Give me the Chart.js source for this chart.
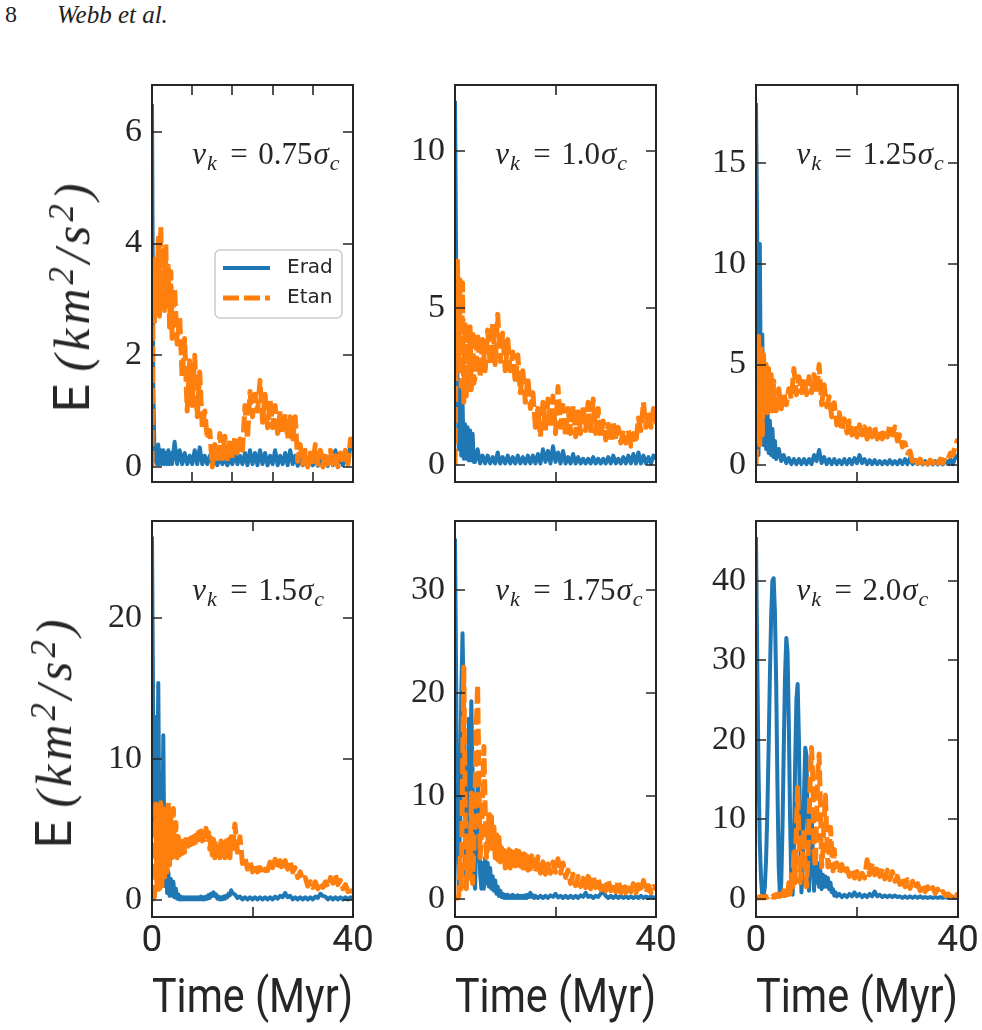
<!DOCTYPE html>
<html><head><meta charset="utf-8">
<script src="https://cdn.jsdelivr.net/npm/chart.js@4.4.1/dist/chart.umd.min.js"></script>
<style>
html,body{margin:0;padding:0;background:#fff;}
#page{position:relative;width:982px;height:1030px;overflow:hidden;background:#fff;}
canvas{position:absolute;}
.hdr{position:absolute;top:1px;font-family:"Liberation Serif",serif;font-size:24px;color:#222;}
.ylab{position:absolute;transform:translate(-50%,-50%) rotate(-90deg);white-space:nowrap;font-family:Roboto,sans-serif;font-size:50px;color:#262626;line-height:1;z-index:5;}
.ylab .m{font-family:"Liberation Serif",serif;font-style:italic;letter-spacing:4px;}
.ylab sup{font-size:0.7em;position:relative;top:-0.1em;vertical-align:top;}
</style></head>
<body><div id="page">
<div class="hdr" style="left:5px;">8</div>
<div class="hdr" style="left:57px;font-style:italic;font-size:25px;">Webb et al.</div>
<div class="ylab" style="left:72px;top:296px;">E <span class="m">(km<sup>2</sup>/s<sup>2</sup>)</span></div>
<div class="ylab" style="left:54px;top:732px;">E <span class="m">(km<sup>2</sup>/s<sup>2</sup>)</span></div>
</div>
<script>
// ---------------- data ----------------
const KICK_LABELS = ['0.75', '1.0', '1.25', '1.5', '1.75', '2.0'];
const SERIES_NAMES = ['Erad', 'Etan'];

const TIME_TOP = [
  0,0.25,0.5,0.75, 1,1.25,1.5,1.75, 2,2.25,2.5,2.75, 3,3.25,3.5,3.75,
  4,4.5,5,5.5, 6,6.5,7,7.5, 8,8.5,9,9.5, 10,10.5,11,11.5, 12,12.5,13,13.5,
  14,14.5,15,15.5, 16,16.5,17,17.5, 18,18.5,19,19.5, 20,20.5,21,21.5,
  22,22.5,23,23.5, 24,24.5,25,25.5, 26,26.5,27,27.5, 28,28.5,29,29.5,
  30,30.5,31,31.5, 32,32.5,33,33.5, 34,34.5,35,35.5, 36,36.5,37,37.5,
  38,38.5,39,39.5, 40
];
const TIME_BOTTOM = [
  0,0.25,0.5,0.75, 1,1.25,1.5,1.75, 2,2.25,2.5,2.75, 3,3.25,3.5,3.75,
  4,4.25,4.5,4.75, 5,5.25,5.5,5.75, 6,6.25,6.5,6.75, 7,7.25,7.5,7.75,
  8,8.25,8.5,8.75, 9,9.25,9.5,9.75, 10,10.25,10.5,10.75, 11,11.25,11.5,11.75,
  12,12.25,12.5,12.75, 13,13.25,13.5,13.75, 14,14.25,14.5,14.75, 15,15.25,15.5,15.75,
  16,16.5,17,17.5, 18,18.5,19,19.5, 20,20.5,21,21.5, 22,22.5,23,23.5,
  24,24.5,25,25.5, 26,26.5,27,27.5, 28,28.5,29,29.5, 30,30.5,31,31.5,
  32,32.5,33,33.5, 34,34.5,35,35.5, 36,36.5,37,37.5, 38,38.5,39,39.5, 40
];

// v_k = 0.75 sigma_c
const ERAD_075 = [
  6.5,1.5,0.1,0.35, 0.05,0.4,0.05,0.3, 0.05,0.3,0.05,0.25, 0.05,0.3,0.05,0.25,
  0.05,0.45,0.05,0.3, 0.05,0.25,0.05,0.2, 0.05,0.3,0.05,0.35, 0.05,0.2,0.05,0.2,
  0.05,0.15,0.03,0.2, 0.05,0.15,0.03,0.15, 0.05,0.25,0.05,0.2, 0.05,0.25,0.03,0.3,
  0.05,0.25,0.03,0.3, 0.05,0.25,0.03,0.2, 0.05,0.3,0.03,0.2, 0.05,0.25,0.03,0.3,
  0.05,0.2,0.02,0.15, 0.03,0.15,0.02,0.12, 0.03,0.15,0.02,0.15, 0.03,0.12,0.02,0.2,
  0.03,0.3,0.05,0.15, 0.03,0.2,0.05,0.4, 0.3
];
const ETAN_075 = [
  0,3.5,2.6,3.8, 2.8,4.1,2.7,4.3, 3.0,3.9,2.8,4.0, 2.9,3.6,2.5,3.5,
  2.3,3.2,2.2,2.7, 1.6,2.3,1.0,1.9, 1.1,2.0,0.9,1.7, 0.7,1.0,0.5,0.65,
  0.0,0.4,0.1,0.6, 0.15,0.55,0.1,0.5, 0.15,0.55,0.2,0.5, 0.3,1.1,0.5,1.35,
  0.9,1.3,1.0,1.55, 0.8,1.3,0.7,1.2, 0.7,1.1,0.6,1.0, 0.6,0.95,0.5,0.9,
  0.5,0.9,0.1,0.4, 0.05,0.3,0.0,0.25, 0.05,0.4,0.05,0.3, 0.0,0.25,0.05,0.3,
  0.05,0.2,0.0,0.25, 0.05,0.3,0.05,0.5, 0.35
];
// v_k = 1.0 sigma_c
const ERAD_100 = [
  11.6,6.0,2.5,0.5, 2.7,0.3,2.0,0.2, 1.3,0.2,1.2,0.15, 1.1,0.15,1.0,0.1,
  0.1,0.5,0.05,0.3, 0.05,0.3,0.05,0.25, 0.05,0.4,0.05,0.25, 0.05,0.3,0.05,0.25,
  0.05,0.3,0.05,0.25, 0.05,0.3,0.05,0.3, 0.05,0.35,0.05,0.5, 0.1,0.45,0.05,0.6,
  0.1,0.4,0.05,0.45, 0.05,0.25,0.05,0.35, 0.05,0.25,0.05,0.2, 0.05,0.2,0.05,0.25,
  0.05,0.2,0.05,0.2, 0.05,0.25,0.05,0.3, 0.05,0.2,0.05,0.25, 0.05,0.3,0.05,0.35,
  0.05,0.4,0.05,0.3, 0.05,0.25,0.05,0.3, 0.2
];
const ETAN_100 = [
  0,4.0,6.5,3.0, 5.9,2.5,5.8,2.0, 4.6,2.2,4.5,2.4, 4.4,2.4,4.3,2.6,
  2.8,4.2,2.8,4.0, 3.0,4.3,3.2,4.5, 3.2,4.8,3.3,4.2, 3.0,4.0,3.0,3.6,
  2.6,3.5,2.3,3.0, 2.0,2.8,1.8,2.3, 1.2,1.8,0.9,2.0, 1.1,2.1,1.2,2.2,
  1.0,2.5,1.2,1.9, 0.9,1.8,1.0,1.9, 0.9,1.7,1.0,1.9, 1.1,2.0,1.0,2.1,
  1.0,1.8,0.9,1.4, 0.8,1.3,0.8,1.4, 0.8,1.2,0.7,1.1, 0.7,1.1,0.6,1.0,
  0.7,1.5,1.1,2.0, 1.2,1.7,1.2,1.8, 1.3
];
// v_k = 1.25 sigma_c
const ERAD_125 = [
  18.0,11.0,0.5,11.0, 2.0,6.5,1.0,4.7, 0.8,3.0,0.6,2.2, 0.5,1.8,0.4,1.2,
  0.3,0.8,0.2,0.5, 0.1,0.35,0.05,0.3, 0.05,0.3,0.05,0.3, 0.05,0.3,0.05,0.5,
  0.2,0.75,0.1,0.4, 0.05,0.3,0.05,0.3, 0.05,0.25,0.05,0.3, 0.05,0.3,0.05,0.35,
  0.1,0.5,0.1,0.3, 0.05,0.25,0.05,0.25, 0.05,0.2,0.05,0.2, 0.05,0.25,0.05,0.2,
  0.05,0.25,0.05,0.3, 0.05,0.35,0.05,0.25, 0.05,0.2,0.03,0.2, 0.03,0.15,0.03,0.2,
  0.03,0.2,0.03,0.25, 0.05,0.3,0.05,0.4, 0.5
];
const ETAN_125 = [
  0,2.0,6.4,1.0, 5.9,1.5,5.5,2.5, 5.0,2.6,4.8,2.7, 4.5,2.7,4.2,2.7,
  2.7,3.8,2.8,3.6, 3.0,3.8,3.3,4.8, 3.5,4.4,3.6,4.3, 3.5,4.4,3.6,4.5,
  3.6,5.0,3.0,4.0, 2.9,3.4,2.4,3.1, 2.0,2.6,1.7,2.3, 1.6,2.2,1.5,2.0,
  1.4,2.0,1.5,1.9, 1.3,1.8,1.4,1.9, 1.3,1.7,1.3,1.8, 1.4,2.0,1.5,1.9,
  1.2,1.5,0.9,1.1, 0.6,0.7,0.2,0.4, 0.1,0.3,0.1,0.3, 0.05,0.25,0.1,0.3,
  0.1,0.3,0.1,0.4, 0.3,0.6,0.5,1.0, 1.3
];
// v_k = 1.5 sigma_c
const ERAD_150 = [
  25.8,12.0,5.0,13.0, 4.0,15.4,3.0,9.0, 1.5,11.7,1.0,5.0, 0.5,2.0,0.3,1.5,
  0.3,1.3,0.2,0.8, 0.1,0.4,0.05,0.25, 0.05,0.2,0.05,0.2, 0.05,0.2,0.05,0.2,
  0.05,0.2,0.05,0.2, 0.05,0.2,0.05,0.25, 0.05,0.2,0.05,0.25, 0.1,0.35,0.15,0.45,
  0.3,0.55,0.3,0.4, 0.1,0.25,0.05,0.2, 0.05,0.25,0.1,0.3, 0.2,0.45,0.35,0.7,
  0.5,0.4,0.15,0.25, 0.05,0.2,0.05,0.2, 0.05,0.2,0.05,0.2, 0.05,0.2,0.05,0.2,
  0.05,0.25,0.1,0.3, 0.2,0.5,0.2,0.3, 0.05,0.2,0.05,0.2, 0.05,0.2,0.05,0.2,
  0.05,0.25,0.15,0.45, 0.3,0.25,0.05,0.2, 0.05,0.2,0.05,0.2, 0.05,0.2,0.05,0.2, 0.1
];
const ETAN_150 = [
  0,0.1,0.3,6.8, 0.5,5.0,0.8,6.9, 1.0,6.5,1.5,6.0, 2.0,6.9,2.5,6.0,
  3.0,6.5,3.0,5.5, 3.0,4.5,3.2,4.4, 3.3,4.2,3.4,4.3, 3.5,4.3,3.6,4.4,
  3.7,4.5,3.8,4.6, 4.0,4.8,4.0,4.9, 4.2,4.8,4.3,5.1, 4.2,4.8,3.6,4.4,
  3.2,4.3,3.0,4.0, 3.2,4.1,3.0,4.2, 3.2,4.0,3.0,4.2, 3.3,4.3,3.0,4.5,
  3.5,5.4,3.4,4.5, 2.6,3.0,2.2,2.8, 2.0,2.6,2.0,2.3, 1.8,2.2,2.1,2.7,
  2.3,2.9,2.2,2.8, 2.2,2.8,2.2,2.7, 2.0,2.3,1.6,2.0, 1.4,1.6,1.0,1.3,
  0.9,1.3,0.8,1.2, 0.9,1.3,0.9,1.6, 1.2,1.8,1.1,1.4, 0.8,1.1,0.6,0.9, 0.5
];
// v_k = 1.75 sigma_c
const ERAD_175 = [
  35.0,20.0,6.0,1.0, 8.0,20.0,25.8,18.0, 4.0,1.0,6.0,17.5, 10.0,19.2,12.0,2.0,
  1.0,6.0,11.5,8.0, 2.5,1.0,3.5,1.0, 4.0,1.5,3.5,1.2, 3.0,1.0,2.2,0.8,
  1.8,0.5,1.2,0.3, 0.8,0.2,0.5,0.1, 0.4,0.1,0.4,0.1, 0.3,0.1,0.4,0.1,
  0.3,0.1,0.35,0.1, 0.3,0.1,0.3,0.1, 0.35,0.1,0.4,0.2, 0.6,0.2,0.35,0.1,
  0.3,0.1,0.3,0.1, 0.3,0.1,0.35,0.2, 0.5,0.15,0.3,0.1, 0.3,0.1,0.3,0.1,
  0.3,0.1,0.35,0.2, 0.6,0.2,0.3,0.1, 0.3,0.2,0.5,0.7, 0.3,0.1,0.3,0.1,
  0.3,0.1,0.3,0.1, 0.25,0.1,0.25,0.1, 0.25,0.1,0.3,0.1, 0.25,0.1,0.25,0.1, 0.2
];
const ETAN_175 = [
  0,0.1,0.1,0.3, 4.0,1.0,12.0,22.5, 10.0,1.0,3.0,6.0, 2.0,10.3,1.5,5.0,
  10.0,17.0,20.8,12.0, 4.0,6.0,10.0,14.8, 9.0,4.0,5.0,8.5, 5.0,8.0,4.5,7.0,
  4.0,6.5,3.8,6.0, 3.6,5.0,3.3,4.7, 3.0,4.5,3.2,4.8, 3.0,4.6,3.1,4.5,
  3.2,4.7,3.3,4.6, 3.2,4.8,3.0,4.4, 3.0,4.2,2.8,4.0, 2.9,4.2,2.8,3.8,
  2.6,4.1,2.5,3.6, 2.4,3.4,2.5,3.6, 2.6,3.9,2.5,3.5, 2.1,2.8,1.5,2.4,
  1.3,2.2,1.2,2.0, 1.1,2.2,1.0,2.3, 1.1,2.0,0.9,1.7, 0.8,1.9,0.8,1.6,
  0.7,1.8,0.6,1.5, 0.6,1.4,0.7,1.5, 0.6,1.4,0.7,1.8, 0.6,1.3,0.6,1.2, 0.9
];
// v_k = 2.0 sigma_c
const ERAD_200 = [
  45.5,30.0,16.0,7.0, 2.5,0.3,0.2,1.5, 5.0,11.0,19.0,28.0, 35.5,40.0,40.3,36.0,
  27.0,14.0,4.0,0.3, 2.0,9.0,19.0,28.0, 32.8,31.0,22.0,10.0, 2.0,0.5,6.0,17.0,
  25.0,27.0,20.0,8.0, 0.8,4.0,13.0,19.0, 18.0,9.0,1.0,5.0, 11.0,6.0,1.0,5.0,
  2.0,4.5,1.5,3.5, 1.2,3.0,1.5,2.8, 1.5,2.6,1.2,2.0, 0.8,1.2,0.4,0.8,
  0.3,0.6,0.2,0.5, 0.2,0.6,0.3,0.8, 0.3,0.6,0.2,0.5, 0.2,0.6,0.3,0.9,
  0.3,0.5,0.2,0.4, 0.2,0.4,0.2,0.4, 0.2,0.3,0.1,0.3, 0.1,0.3,0.1,0.3,
  0.1,0.3,0.1,0.2, 0.1,0.2,0.1,0.2, 0.1,0.2,0.1,0.2, 0.1,0.2,0.1,0.2, 0.1
];
const ETAN_200 = [
  0.1,0.1,0.2,0.1, 0.3,0.1,0.2,0.1, 0.3,0.2,0.4,0.2, 0.3,0.2,0.4,0.2,
  0.5,0.3,0.6,0.3, 0.8,0.4,1.0,0.4, 1.2,0.5,2.0,0.6, 3.0,1.0,5.8,2.0,
  9.0,14.0,8.0,2.0, 4.0,6.0,8.7,4.0, 1.5,5.0,10.0,15.0, 19.0,15.0,6.0,4.0,
  10.0,16.0,18.2,12.0, 4.0,6.0,10.0,13.0, 8.0,4.0,6.0,9.0, 6.0,3.5,6.2,4.0,
  4.5,3.2,4.3,3.0, 3.8,2.8,3.6,2.6, 3.4,2.5,3.2,2.6, 4.9,3.0,4.5,3.0,
  4.2,2.8,3.8,2.5, 3.6,2.4,3.4,2.2, 2.8,1.8,2.5,1.5, 2.4,1.3,2.2,1.2,
  1.9,1.0,1.8,0.9, 1.5,0.8,1.4,0.7, 1.2,0.5,0.9,0.4, 0.6,0.3,0.8,0.4, 0.6
];

// tick values
const Y_TICKS_075 = [0, 2, 4, 6];
const Y_TICKS_100 = [0, 5, 10];
const Y_TICKS_125 = [0, 5, 10, 15];
const Y_TICKS_150 = [0, 10, 20];
const Y_TICKS_175 = [0, 10, 20, 30];
const Y_TICKS_200 = [0, 10, 20, 30, 40];
const X_TICKS_FINE = [0, 8, 16, 24, 32, 40];
const X_TICKS = [0, 20, 40];
const X_TICK_LABELS = ['0', '', '40'];

// ---------------- styling ----------------
const INK = '#262626';
const BLUE = '#1f77b4';
const ORANGE = '#ff7f0e';

const framePlugin = {
  id: 'frame',
  afterDatasetsDraw(chart) {
    const {ctx, chartArea: a, scales} = chart;
    const x = scales.x, y = scales.y;
    ctx.save();
    ctx.strokeStyle = INK;
    ctx.lineWidth = 2;
    ctx.strokeRect(a.left, a.top, a.right - a.left, a.bottom - a.top);
    ctx.lineWidth = 1.6;
    const L = 10;
    ctx.beginPath();
    x.ticks.forEach(t => {
      const px = Math.round(x.getPixelForValue(t.value));
      ctx.moveTo(px, a.bottom); ctx.lineTo(px, a.bottom - L);
      ctx.moveTo(px, a.top); ctx.lineTo(px, a.top + L);
    });
    y.ticks.forEach(t => {
      const py = Math.round(y.getPixelForValue(t.value));
      ctx.moveTo(a.left, py); ctx.lineTo(a.left + L, py);
      ctx.moveTo(a.right, py); ctx.lineTo(a.right - L, py);
    });
    ctx.stroke();
    ctx.restore();
  }
};

const kickPlugin = {
  id: 'kick',
  afterDraw(chart, args, o) {
    if (!o || !o.value) return;
    const {ctx, chartArea: a} = chart;
    const fs = o.size || 30;
    const x0 = a.left + 0.2 * (a.right - a.left);
    const y0 = a.top + 0.2 * (a.bottom - a.top);
    const fam = '"Liberation Serif", serif';
    const it = `italic ${fs}px ${fam}`;
    const rm = `${fs}px ${fam}`;
    const sb = `italic ${Math.round(fs * 0.72)}px ${fam}`;
    const parts = [
      ['v', it, 0, 1], ['k', sb, fs * 0.18, 3], [null, 0.34 * fs], ['=', rm, 0, 0], [null, 0.34 * fs],
      [o.value, rm, 0, 1], ['\u03c3', it, 0, 1], ['c', sb, fs * 0.18, 0]
    ];
    ctx.save();
    ctx.fillStyle = INK;
    ctx.textBaseline = 'alphabetic';
    ctx.textAlign = 'left';
    let x = x0;
    parts.forEach(p => {
      if (p[0] === null) { x += p[1]; return; }
      ctx.font = p[1];
      ctx.fillText(p[0], x, y0 + p[2]);
      x += ctx.measureText(p[0]).width + p[3];
    });
    ctx.restore();
  }
};

const boxLegendPlugin = {
  id: 'boxLegend',
  afterDraw(chart, args, o) {
    if (!o || !o.show) return;
    const {ctx, chartArea: a} = chart;
    const bx = a.left + o.dx, by = a.top + o.dy, bw = o.w, bh = o.h;
    ctx.save();
    ctx.fillStyle = 'rgba(255,255,255,0.8)';
    ctx.strokeStyle = '#cccccc';
    ctx.lineWidth = 1.5;
    ctx.beginPath();
    if (ctx.roundRect) ctx.roundRect(bx, by, bw, bh, 5); else ctx.rect(bx, by, bw, bh);
    ctx.fill(); ctx.stroke();
    chart.data.datasets.forEach((ds, i) => {
      const ry = by + 18 + i * 30;
      ctx.beginPath();
      ctx.strokeStyle = ds.borderColor;
      ctx.lineWidth = ds.borderWidth;
      ctx.setLineDash(ds.borderDash || []);
      ctx.lineCap = 'butt';
      ctx.moveTo(bx + 8, ry); ctx.lineTo(bx + 55, ry);
      ctx.stroke();
      ctx.setLineDash([]);
      ctx.fillStyle = INK;
      ctx.font = '20px "DejaVu Sans", sans-serif';
      ctx.textBaseline = 'middle';
      ctx.fillText(ds.label, bx + 72, ry);
    });
    ctx.restore();
  }
};

Chart.register(framePlugin, kickPlugin, boxLegendPlugin);

const PANELS = [
  {left:152, top:85, w:201, h:397, t:TIME_TOP, erad:ERAD_075, etan:ETAN_075, ymin:-0.27, ymax:6.84, yt:Y_TICKS_075, xt:X_TICKS_FINE, kick:KICK_LABELS[0], bottom:false, legend:true},
  {left:455, top:85, w:201, h:397, t:TIME_TOP, erad:ERAD_100, etan:ETAN_100, ymin:-0.54, ymax:12.1, yt:Y_TICKS_100, xt:X_TICKS, kick:KICK_LABELS[1], bottom:false},
  {left:756, top:85, w:202, h:397, t:TIME_TOP, erad:ERAD_125, etan:ETAN_125, ymin:-0.84, ymax:18.9, yt:Y_TICKS_125, xt:X_TICKS, kick:KICK_LABELS[2], bottom:false},
  {left:152, top:521, w:201, h:396, t:TIME_BOTTOM, erad:ERAD_150, etan:ETAN_150, ymin:-1.2, ymax:26.9, yt:Y_TICKS_150, xt:X_TICKS, kick:KICK_LABELS[3], bottom:true},
  {left:455, top:521, w:201, h:396, t:TIME_BOTTOM, erad:ERAD_175, etan:ETAN_175, ymin:-1.75, ymax:36.7, yt:Y_TICKS_175, xt:X_TICKS, kick:KICK_LABELS[4], bottom:true},
  {left:756, top:521, w:202, h:396, t:TIME_BOTTOM, erad:ERAD_200, etan:ETAN_200, ymin:-2.3, ymax:47.5, yt:Y_TICKS_200, xt:X_TICKS, kick:KICK_LABELS[5], bottom:true}
];

const YW = 75, PADT = 10, PADR = 24;
const page = document.getElementById('page');

PANELS.forEach((p) => {
  const cv = document.createElement('canvas');
  const cLeft = p.left - YW, cTop = p.top - PADT;
  const cW = YW + p.w + PADR;
  const xH = p.bottom ? (1030 - (p.top + p.h)) : 0;
  const padB = p.bottom ? 0 : 10;
  const cH = PADT + p.h + xH + padB;
  cv.width = cW; cv.height = cH;
  cv.style.left = cLeft + 'px'; cv.style.top = cTop + 'px';
  cv.style.width = cW + 'px'; cv.style.height = cH + 'px';
  page.appendChild(cv);

  new Chart(cv, {
    type: 'line',
    data: {
      datasets: [
        {label: SERIES_NAMES[0], data: p.t.map((t, i) => ({x: t, y: p.erad[i]})),
         borderColor: BLUE, borderWidth: 4, pointRadius: 0, fill: false, tension: 0,
         borderJoinStyle: 'round', clip: 0, order: 2},
        {label: SERIES_NAMES[1], data: p.t.map((t, i) => ({x: t, y: p.etan[i]})),
         borderColor: ORANGE, borderWidth: 5, borderDash: [16, 5], pointRadius: 0, fill: false, tension: 0,
         borderJoinStyle: 'round', clip: 0, order: 1}
      ]
    },
    options: {
      responsive: false, maintainAspectRatio: false, animation: false, devicePixelRatio: 1,
      events: [],
      layout: {padding: {left: 0, top: PADT, right: PADR, bottom: padB}},
      scales: {
        x: {
          type: 'linear', min: 0, max: 40, position: 'bottom',
          grid: {display: false, drawTicks: false}, border: {display: false},
          afterBuildTicks: s => { s.ticks = p.xt.map(v => ({value: v})); },
          afterFit: s => { s.height = xH; s.paddingLeft = 0; s.paddingRight = 0; },
          ticks: {
            display: p.bottom, padding: 3, color: INK, maxRotation: 0, autoSkip: false,
            font: {family: 'Roboto, sans-serif', size: 37},
            callback: (v) => { const k = X_TICKS.indexOf(v); return k >= 0 ? X_TICK_LABELS[k] : ''; }
          },
          title: {display: p.bottom, text: 'Time (Myr)', color: INK,
                  font: {family: 'Roboto, sans-serif', size: 48}, padding: {top: 0, bottom: 1}}
        },
        y: {
          type: 'linear', min: p.ymin, max: p.ymax, position: 'left',
          grid: {display: false, drawTicks: false}, border: {display: false},
          afterBuildTicks: s => { s.ticks = p.yt.map(v => ({value: v})); },
          afterFit: s => { s.width = YW; s.paddingTop = 0; s.paddingBottom = 0; },
          ticks: {padding: 10, color: INK, font: {family: '"Liberation Serif", serif', size: 34},
                  callback: v => String(v)}
        }
      },
      plugins: {
        legend: {display: false}, tooltip: {enabled: false},
        kick: {value: p.kick, size: 31},
        boxLegend: p.legend ? {show: true, dx: 63, dy: 165, w: 127, h: 68} : {show: false}
      }
    }
  });
});
</script>
</body></html>
